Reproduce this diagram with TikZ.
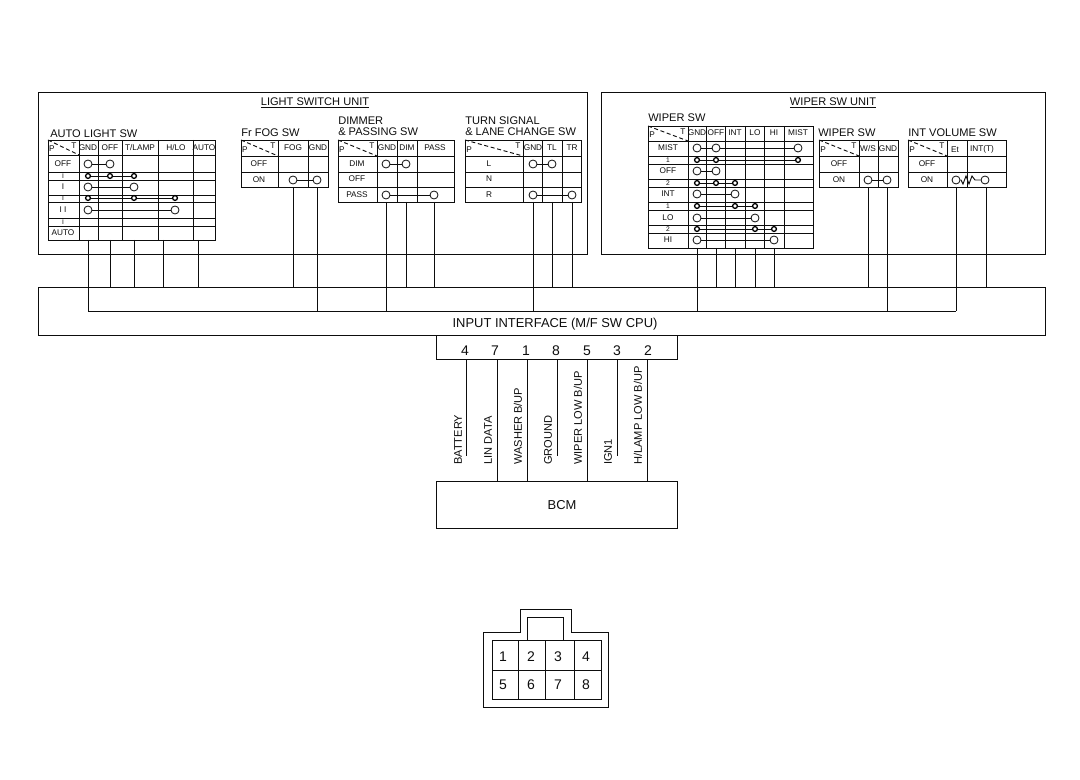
\documentclass[tikz,border=0pt]{standalone}
\usepackage{fontspec}
\setmainfont{Liberation Sans}
\definecolor{ink}{gray}{0.05}

\tikzset{
	wire/.style = {draw=ink, line width=0.7pt},
	box/.style 2 args = {draw=ink, line width=0.7pt, inner sep=0pt, minimum width=#1*0.75pt, minimum height=#2*0.75pt},
	contact/.style = {circle, draw=ink, fill=white, line width=0.6pt, inner sep=0pt, minimum size=6pt},
	tap/.style = {circle, draw=black, fill=white, line width=1pt, inner sep=0pt, minimum size=3.6pt},
	title/.style = {anchor=west, inner sep=0pt, text=ink, font=\fontsize{8.3}{9}\selectfont},
	cell/.style = {inner sep=0pt, text=ink, font=\fontsize{6.2}{7}\selectfont},
	tiny cell/.style = {inner sep=0pt, text=ink, font=\fontsize{5}{5}\selectfont},
	side/.style = {rotate=90, anchor=west, inner sep=0pt, text=ink, font=\fontsize{8.3}{9}\selectfont},
	big/.style = {inner sep=0pt, text=ink, font=\fontsize{9.7}{11}\selectfont},
	pin/.style = {inner sep=0pt, text=ink, font=\fontsize{10.5}{12}\selectfont}
}

% x0, header x, x1, y0, header y, y1, inner x lines, inner y lines
\newcommand{\swtable}[8]{
	\draw[wire] (#1,#4) rectangle (#3,#6);
	\foreach \x in {#2,#7} \draw[wire] (\x,#4) -- (\x,#6);
	\foreach \y in {#5,#8} \draw[wire] (#1,\y) -- (#3,\y);
	\draw[ink, line width=0.7pt, densely dashed] (#1,#4) -- (#2,#5);
	\node[cell] (P#1) at ({#1+4},{#5-6}) {P};
	\node[cell] (T#1) at ({#2-5},{#4+6}) {T};
}
% row of contacts joined left to right
\newcommand{\swrow}[4]{
	\foreach \x [count=\i, remember=\i as \j (initially 0)] in {#4} {
		\node[#2] (#1\i) at (\x,#3) {};
		\ifnum\i>1 \draw[wire] (#1\j) -- (#1\i); \fi
	}
}

\begin{document}
\begin{tikzpicture}[x=0.75pt,y=-0.75pt]
	\useasboundingbox (0,0) rectangle (1080,780);

	\node[box={549}{162}] (light) at (312.5,173) {};
	\node[box={444}{162}] (wiper) at (823,173) {};
	\node[box={1007}{48}] (iface) at (541.5,311) {};
	\node[box={241}{24}] (plug) at (556.5,347) {};
	\node[box={241}{47}] (bcm) at (556.5,504.5) {};

	\node[big] (ifacetext) at (555,324) {INPUT INTERFACE (M/F SW CPU)};
	\node[big] (bcmtext) at (562,505) {BCM};
	\node[title,anchor=center] (lighttext) at (315,103) {\underline{LIGHT SWITCH UNIT}};
	\node[title,anchor=center] (wipertext) at (833,103) {\underline{WIPER SW UNIT}};

	% auto light sw
	\node[title] (autotext) at (50,134) {AUTO LIGHT SW};
	\swtable{48}{79}{215}{140}{155}{240}{98,122,158,193}{172,180,195,202,218,226}
	\foreach \x/\y/\lbl [count=\i] in {88/148/GND,110/148/OFF,140/148/{T/LAMP},176/148/{H/LO},204/148/AUTO,
		63/164/OFF,63/187/I,63/210/I I,63/233/AUTO}
		\node[cell] (au\i) at (\x,\y) {\lbl};
	\foreach \y [count=\i] in {176,198,222}
		\node[tiny cell] (aus\i) at (63,\y) {I};
	\swrow{aua}{contact}{164}{88,110}
	\swrow{aub}{tap}{176}{88,110,134}
	\swrow{auc}{contact}{187}{88,134}
	\swrow{aud}{tap}{198}{88,134,175}
	\swrow{aue}{contact}{210}{88,175}

	% fog sw
	\node[title] (fogtext) at (241,133) {Fr FOG SW};
	\swtable{241}{278}{328}{140}{156}{187}{308}{172}
	\foreach \x/\y/\lbl [count=\i] in {293/148/FOG,318/148/GND,259/164/OFF,259/180/ON}
		\node[cell] (fg\i) at (\x,\y) {\lbl};
	\swrow{fga}{contact}{180}{293,317}

	% dimmer sw
	\node[title] (dimtexta) at (338,121) {DIMMER};
	\node[title] (dimtextb) at (338,132) {\& PASSING SW};
	\swtable{338}{377}{454}{140}{156}{202}{397,417}{172,187}
	\foreach \x/\y/\lbl [count=\i] in {387/148/GND,407/148/DIM,435/148/PASS,357/164/DIM,357/179/OFF,357/195/PASS}
		\node[cell] (dm\i) at (\x,\y) {\lbl};
	\swrow{dma}{contact}{164}{386,406}
	\swrow{dmb}{contact}{195}{386,434}

	% turn signal sw
	\node[title] (turntexta) at (465,121) {TURN SIGNAL};
	\node[title] (turntextb) at (465,132) {\& LANE CHANGE SW};
	\swtable{465}{523}{581}{140}{156}{202}{542,562}{172,187}
	\foreach \x/\y/\lbl [count=\i] in {533/148/GND,552/148/TL,572/148/TR,489/164/L,489/179/N,489/195/R}
		\node[cell] (tn\i) at (\x,\y) {\lbl};
	\swrow{tna}{contact}{164}{533,552}
	\swrow{tnb}{contact}{195}{533,572}

	% wiper sw
	\node[title] (wiptext) at (648,118) {WIPER SW};
	\swtable{648}{688}{813}{126}{141}{248}{706,725,745,764,784}{156,164,179,187,202,210,225,233}
	\foreach \x/\y/\lbl [count=\i] in {697/133/GND,716/133/OFF,735/133/INT,755/133/LO,774/133/HI,798/133/MIST,
		668/148/MIST,668/171/OFF,668/194/INT,668/218/LO,668/240/HI}
		\node[cell] (wp\i) at (\x,\y) {\lbl};
	\foreach \y/\lbl [count=\i] in {160/1,183/2,206/1,229/2}
		\node[tiny cell] (wps\i) at (668,\y) {\lbl};
	\swrow{wpa}{contact}{148}{697,716,798}
	\swrow{wpb}{tap}{160}{697,716,798}
	\swrow{wpc}{contact}{171}{697,716}
	\swrow{wpd}{tap}{183}{697,716,735}
	\swrow{wpe}{contact}{194}{697,735}
	\swrow{wpf}{tap}{206}{697,735,755}
	\swrow{wpg}{contact}{218}{697,755}
	\swrow{wph}{tap}{229}{697,755,774}
	\swrow{wpi}{contact}{240}{697,774}

	% washer sw
	\node[title] (wastext) at (818,133) {WIPER SW};
	\swtable{819}{859}{898}{140}{156}{187}{878}{172}
	\foreach \x/\y/\lbl [count=\i] in {868/149/{W/S},888/149/GND,839/164/OFF,839/180/ON}
		\node[cell] (ws\i) at (\x,\y) {\lbl};
	\swrow{wsa}{contact}{180}{868,887}

	% int volume sw
	\node[title] (voltext) at (908,133) {INT VOLUME SW};
	\swtable{908}{947}{1006}{140}{156}{187}{967}{172}
	\foreach \x/\y/\lbl [count=\i] in {955/150/Et,982/149/INT(T),927/164/OFF,927/180/ON}
		\node[cell] (vl\i) at (\x,\y) {\lbl};
	\node[contact] (vla) at (956,180) {};
	\node[contact] (vlb) at (985,180) {};
	\draw[wire] (vla) -- (961,180) -- (963,184) -- (966,176) -- (969,184) -- (972,176) -- (975,180) -- (vlb);

	% wires into the interface
	\foreach \n/\x/\y in {a/110/240,b/134/240,c/163/240,d/198/240,e/293/187,f/406/202,g/434/202,h/552/202,
		i/572/202,j/716/248,k/735/248,l/755/248,m/774/248,n/868/187,o/986/187} {
		\coordinate (up\n) at (\x,\y);
		\draw[wire] (up\n) -- (up\n |- iface.north);
	}
	% ground bus
	\coordinate (bus) at (88,311);
	\coordinate (busend) at (956,311);
	\draw[wire] (bus) -- (busend);
	\foreach \n/\x/\y in {a/88/240,b/317/187,c/386/202,d/533/202,e/697/248,f/887/187,g/956/187} {
		\coordinate (gnd\n) at (\x,\y);
		\draw[wire] (gnd\n) -- (gnd\n |- bus);
	}

	% pins and wires to bcm
	\foreach \x/\lbl in {465/4,495/7,526/1,556/8,587/5,617/3,648/2}
		\node[pin] (pin\lbl) at (\x,351) {\lbl};
	\foreach \x/\lbl in {497/7,527/1,587/5,647/2} {
		\coordinate (top\lbl) at (\x,359);
		\draw[wire] (top\lbl) -- (top\lbl |- bcm.north);
	}
	\foreach \x/\lbl in {466/4,557/8,617/3} {
		\coordinate (top\lbl) at (\x,359);
		\coordinate (end\lbl) at (\x,456);
		\draw[wire] (top\lbl) -- (end\lbl);
	}
	\foreach \x/\lbl [count=\i] in {458/BATTERY,488/LIN DATA,518/{WASHER B/UP},548/GROUND,578/{WIPER LOW B/UP},608/IGN1,638/{H/LAMP LOW B/UP}}
		\node[side] (name\i) at (\x,465) {\lbl};

	% connector face
	\draw[wire] (483,632) -- (520,632) -- (520,609) -- (571,609) -- (571,632) -- (608,632) -- (608,707) -- (483,707) -- cycle;
	\draw[wire] (527,640) -- (527,617) -- (563,617) -- (563,640);
	\draw[wire] (492,640) rectangle (601,699);
	\draw[wire] (492,670) -- (601,670);
	\foreach \x in {518,545,574} \draw[wire] (\x,640) -- (\x,699);
	\foreach \x/\y/\lbl in {503/657/1,531/657/2,558/657/3,586/657/4,503/685/5,531/685/6,558/685/7,586/685/8}
		\node[pin] (face\lbl) at (\x,\y) {\lbl};
\end{tikzpicture}
\end{document}
